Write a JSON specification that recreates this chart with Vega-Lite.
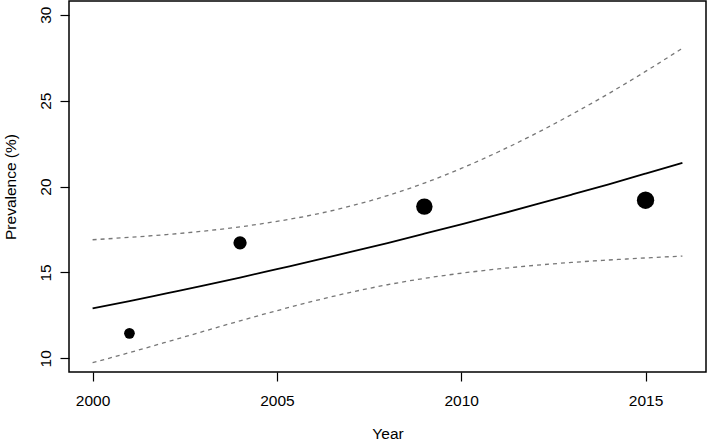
{
  "$schema": "https://vega.github.io/schema/vega-lite/v6.json",
  "width": 637,
  "height": 371,
  "autosize": {"type": "none"},
  "padding": {"left": 69, "top": 1, "right": 3, "bottom": 70},
  "background": "white",
  "config": {
    "view": {"stroke": "black", "strokeWidth": 1.5},
    "font": "Liberation Sans",
    "axis": {
      "domain": false,
      "grid": false,
      "tickColor": "black",
      "tickSize": 9,
      "tickWidth": 1.2,
      "labelFont": "Liberation Sans",
      "labelFontSize": 15.5,
      "labelColor": "black",
      "titleFont": "Liberation Sans",
      "titleFontSize": 15.5,
      "titleFontWeight": "normal",
      "titleColor": "black"
    }
  },
  "datasets": {
    "curve": [
      {"year": 2000, "fit": 12.90, "lower": 9.74, "upper": 16.90},
      {"year": 2001, "fit": 13.33, "lower": 10.33, "upper": 17.04},
      {"year": 2002, "fit": 13.78, "lower": 10.94, "upper": 17.20},
      {"year": 2003, "fit": 14.23, "lower": 11.56, "upper": 17.40},
      {"year": 2004, "fit": 14.70, "lower": 12.18, "upper": 17.65},
      {"year": 2005, "fit": 15.19, "lower": 12.77, "upper": 17.97},
      {"year": 2006, "fit": 15.68, "lower": 13.33, "upper": 18.36},
      {"year": 2007, "fit": 16.19, "lower": 13.84, "upper": 18.86},
      {"year": 2008, "fit": 16.71, "lower": 14.28, "upper": 19.47},
      {"year": 2009, "fit": 17.25, "lower": 14.65, "upper": 20.20},
      {"year": 2010, "fit": 17.80, "lower": 14.95, "upper": 21.05},
      {"year": 2011, "fit": 18.36, "lower": 15.20, "upper": 22.01},
      {"year": 2012, "fit": 18.94, "lower": 15.41, "upper": 23.06},
      {"year": 2013, "fit": 19.53, "lower": 15.58, "upper": 24.20},
      {"year": 2014, "fit": 20.13, "lower": 15.72, "upper": 25.41},
      {"year": 2015, "fit": 20.75, "lower": 15.84, "upper": 26.70},
      {"year": 2016, "fit": 21.38, "lower": 15.95, "upper": 28.05}
    ],
    "obs": [
      {"year": 2001, "prevalence": 11.45, "n": 380},
      {"year": 2004, "prevalence": 16.72, "n": 590},
      {"year": 2009, "prevalence": 18.83, "n": 900},
      {"year": 2015, "prevalence": 19.2, "n": 1000}
    ]
  },
  "layer": [
    {
      "data": {"name": "curve"},
      "mark": {"type": "line", "color": "#777777", "strokeWidth": 1.3, "strokeDash": [4, 4], "interpolate": "monotone"},
      "encoding": {
        "x": {"field": "year", "type": "quantitative", "scale": {"domain": [1999.36, 2016.64], "nice": false, "zero": false},
          "axis": {"title": "Year", "values": [2000, 2005, 2010, 2015], "format": "d", "labelPadding": 12, "titleY": 66, "titleBaseline": "alphabetic"}},
        "y": {"field": "upper", "type": "quantitative", "scale": {"domain": [9.2, 30.8], "nice": false, "zero": false},
          "axis": {"title": "Prevalence (%)", "values": [10, 15, 20, 25, 30], "labelAngle": -90, "labelAlign": "center", "labelBaseline": "alphabetic", "labelPadding": 10, "titleX": -54, "titleBaseline": "alphabetic", "titleAngle": -90}}
      }
    },
    {
      "data": {"name": "curve"},
      "mark": {"type": "line", "color": "#777777", "strokeWidth": 1.3, "strokeDash": [4, 4], "interpolate": "monotone"},
      "encoding": {
        "x": {"field": "year", "type": "quantitative"},
        "y": {"field": "lower", "type": "quantitative"}
      }
    },
    {
      "data": {"name": "curve"},
      "mark": {"type": "line", "color": "black", "strokeWidth": 1.8, "interpolate": "monotone"},
      "encoding": {
        "x": {"field": "year", "type": "quantitative"},
        "y": {"field": "fit", "type": "quantitative"}
      }
    },
    {
      "data": {"name": "obs"},
      "mark": {"type": "circle", "color": "black", "opacity": 1},
      "encoding": {
        "x": {"field": "year", "type": "quantitative"},
        "y": {"field": "prevalence", "type": "quantitative"},
        "size": {"field": "n", "type": "quantitative", "scale": {"type": "linear", "domain": [0, 1000], "range": [0, 300]}, "legend": null}
      }
    }
  ]
}
